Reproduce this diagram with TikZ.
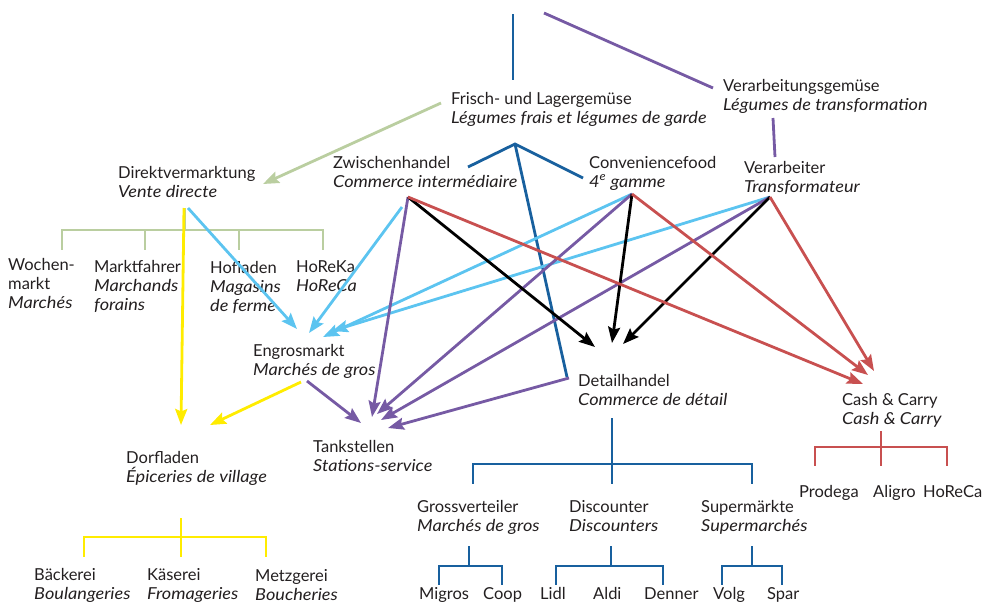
\documentclass[tikz,border=0pt]{standalone}
\usepackage{fontspec}
\setmainfont{Lato}[ItalicFeatures={FakeStretch=1.1}]
\usetikzlibrary{arrows.meta}
\definecolor{txt}{RGB}{35,31,32}
\definecolor{dblue}{RGB}{24,96,158}
\definecolor{lila}{RGB}{118,90,164}
\definecolor{sage}{RGB}{186,206,160}
\definecolor{cyan}{RGB}{92,196,240}
\definecolor{gelb}{RGB}{255,236,0}
\definecolor{rot}{RGB}{200,80,80}
\begin{document}
\begin{tikzpicture}[x=1pt,y=-1pt,
    lbl/.style={anchor=base west,align=left,inner sep=0pt,text=txt,
      font=\fontsize{16.5}{18.7}\selectfont},
    ln/.style={line width=2.8pt},
    arr/.style={ln,-{Stealth[length=16pt,width=12pt,inset=2.5pt]}}]
  \useasboundingbox (0,0) rectangle (983,603);

  % labels (placed at the baseline of their last line)
  \node[lbl] (frisch) at (451,123) {Frisch- und Lagergemüse\\\textit{Légumes frais et légumes de garde}};
  \node[lbl] (verarbg) at (723,110) {Verarbeitungsgemüse\\\textit{Légumes de transformation}};
  \node[lbl] (direkt) at (118,197) {Direktvermarktung\\\textit{Vente directe}};
  \node[lbl] (zwischen) at (333,187) {Zwischenhandel\\\textit{Commerce intermédiaire}};
  \node[lbl] (conv) at (589,187) {Conveniencefood\\\textit{4\textsuperscript{e} gamme}};
  \node[lbl] (verarb) at (744,192) {Verarbeiter\\\textit{Transformateur}};
  \node[lbl] (wochen) at (8,308) {Wochen-\\markt\\\textit{Marchés}};
  \node[lbl] (markt) at (94,310) {Marktfahrer\\\textit{Marchands}\\\textit{forains}};
  \node[lbl] (hof) at (210,311) {Hofladen\\\textit{Magasins}\\\textit{de ferme}};
  \node[lbl] (horeka) at (296,291) {HoReKa\\\textit{HoReCa}};
  \node[lbl] (engros) at (253,375) {Engrosmarkt\\\textit{Marchés de gros}};
  \node[lbl] (dorf) at (126,482) {Dorfladen\\\textit{Épiceries de village}};
  \node[lbl] (tank) at (313,471) {Tankstellen\\\textit{Stations-service}};
  \node[lbl] (detail) at (578,405) {Detailhandel\\\textit{Commerce de détail}};
  \node[lbl] (cash) at (842,424) {Cash \& Carry\\\textit{Cash \& Carry}};
  \node[lbl] (gross) at (417,531) {Grossverteiler\\\textit{Marchés de gros}};
  \node[lbl] (disc) at (569,531) {Discounter\\\textit{Discounters}};
  \node[lbl] (super) at (701,531) {Supermärkte\\\textit{Supermarchés}};
  \node[lbl] (prodega) at (799,497) {Prodega};
  \node[lbl] (aligro) at (873,497) {Aligro};
  \node[lbl] (horeca) at (923,497) {HoReCa};
  \node[lbl] (baeck) at (34,599) {Bäckerei\\\textit{Boulangeries}};
  \node[lbl] (kaes) at (147,599) {Käserei\\\textit{Fromageries}};
  \node[lbl] (metzg) at (255,600) {Metzgerei\\\textit{Boucheries}};
  \node[lbl] (migros) at (419,599) {Migros};
  \node[lbl] (coop) at (483,599) {Coop};
  \node[lbl] (lidl) at (540,599) {Lidl};
  \node[lbl] (aldi) at (593,599) {Aldi};
  \node[lbl] (denner) at (644,599) {Denner};
  \node[lbl] (volg) at (713,599) {Volg};
  \node[lbl] (spar) at (767,599) {Spar};

  % connector ends
  \coordinate (top-b) at (513,14);
  \coordinate (top-p) at (544,13);
  \coordinate (frisch-n) at (513,80);
  \coordinate (frisch-w) at (441,103);
  \coordinate (frisch-s) at (515,144);
  \coordinate (verarbg-w) at (713,88);
  \coordinate (verarbg-s) at (773,118);
  \coordinate (verarb-n) at (775,157);
  \coordinate (direkt-e) at (263,184);
  \coordinate (direkt-s) at (185,208);
  \coordinate (zwischen-e) at (468,167);
  \coordinate (zwischen-s) at (408,197);
  \coordinate (zwischen-c) at (402,207);
  \coordinate (conv-w) at (583,178);
  \coordinate (conv-s) at (632,194);
  \coordinate (verarb-s) at (770,197);
  \coordinate (detail-w) at (567,377);
  \coordinate (detail-p) at (569,378);

  % tree lines
  \draw[ln,dblue] (top-b) -- (frisch-n);
  \draw[ln,lila] (top-p) -- (verarbg-w);
  \draw[ln,lila] (verarbg-s) -- (verarb-n);
  \draw[ln,dblue] (zwischen-e) -- (frisch-s) -- (conv-w);
  \draw[ln,dblue] (frisch-s) -- (detail-w);
  \draw[arr,sage] (frisch-w) -- (direkt-e);

  % brackets
  \draw[ln,sage] (direkt-s) -- (185,230) (62,230) -- (323,230);
  \foreach \x in {62,145,239,323} \draw[ln,sage] (\x,229) -- (\x,250);
  \draw[ln,gelb] (181,518) -- (181,537) (84,537) -- (266,537);
  \foreach \x in {84,181,266} \draw[ln,gelb] (\x,536) -- (\x,557);
  \draw[ln,rot] (881,431) -- (881,447) (815,447) -- (947,447);
  \foreach \x in {815,881,947} \draw[ln,rot] (\x,446) -- (\x,466);
  \draw[ln,dblue] (612,418) -- (612,464) (473,464) -- (752,464);
  \foreach \x in {473,612,752} \draw[ln,dblue] (\x,463) -- (\x,484);
  \foreach \s/\l/\r in {469/439/502,611/556/663,752/722/782}{
    \draw[ln,dblue] (\s,546) -- (\s,566) (\l,566) -- (\r,566);
    \draw[ln,dblue] (\l,565) -- (\l,585) (\r,565) -- (\r,585);
  }

  % flows
  \draw[arr,gelb] (184,208) -- (181,425);
  \draw[arr,cyan] (188,208) -- (297,329);
  \draw[arr,cyan] (zwischen-c) -- (309,333);
  \draw[arr,cyan] (conv-s) -- (323,337);
  \draw[arr,cyan] (verarb-s) -- (332,331);
  \draw[arr,lila] (zwischen-s) -- (372,417);
  \draw[arr,lila] (conv-s) -- (377,414);
  \draw[arr,lila] (verarb-s) -- (381,420);
  \draw[arr,lila] (detail-p) -- (388,428);
  \draw[arr,lila] (307,381) -- (361,423);
  \draw[arr,gelb] (301,382) -- (210,425);
  \draw[arr,black] (zwischen-s) -- (595,347);
  \draw[arr,black] (conv-s) -- (612,343);
  \draw[arr,black] (verarb-s) -- (623,344);
  \draw[arr,rot] (zwischen-s) -- (863,384);
  \draw[arr,rot] (conv-s) -- (868,375);
  \draw[arr,rot] (verarb-s) -- (874,371);
\end{tikzpicture}
\end{document}
